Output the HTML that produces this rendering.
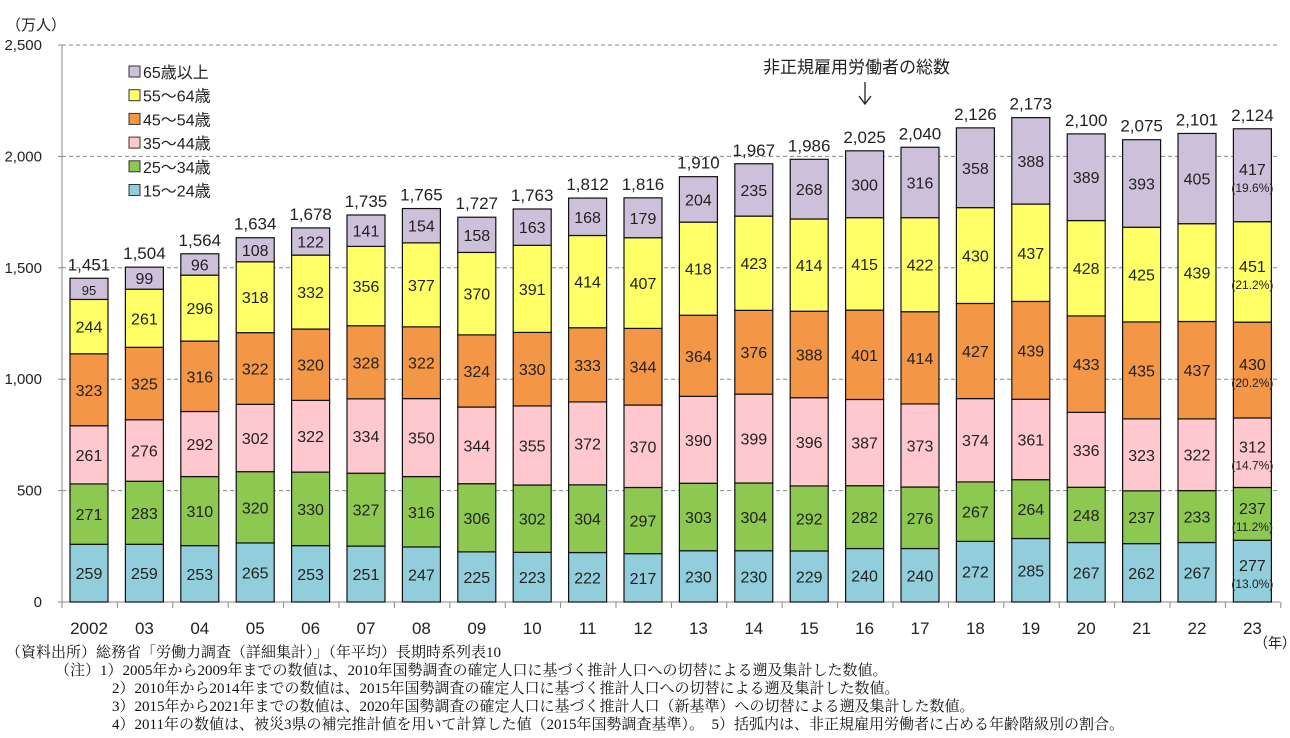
<!DOCTYPE html><html><head><meta charset="utf-8"><style>
body{margin:0;background:#fff;width:1290px;height:733px;overflow:hidden}
svg text{font-family:"Liberation Sans","Noto Sans CJK JP",sans-serif;fill:#222}
.n{font-family:"Liberation Serif","Noto Serif CJK SC",serif;font-size:15px;fill:#111}
</style></head><body>
<svg id="s" width="1290" height="733" xmlns="http://www.w3.org/2000/svg"></svg>
<script>
const d=[
["2002",259,271,261,323,244,95,"1,451"],["03",259,283,276,325,261,99,"1,504"],["04",253,310,292,316,296,96,"1,564"],
["05",265,320,302,322,318,108,"1,634"],["06",253,330,322,320,332,122,"1,678"],["07",251,327,334,328,356,141,"1,735"],
["08",247,316,350,322,377,154,"1,765"],["09",225,306,344,324,370,158,"1,727"],["10",223,302,355,330,391,163,"1,763"],
["11",222,304,372,333,414,168,"1,812"],["12",217,297,370,344,407,179,"1,816"],["13",230,303,390,364,418,204,"1,910"],
["14",230,304,399,376,423,235,"1,967"],["15",229,292,396,388,414,268,"1,986"],["16",240,282,387,401,415,300,"2,025"],
["17",240,276,373,414,422,316,"2,040"],["18",272,267,374,427,430,358,"2,126"],["19",285,264,361,439,437,388,"2,173"],
["20",267,248,336,433,428,389,"2,100"],["21",262,237,323,435,425,393,"2,075"],["22",267,233,322,437,439,405,"2,101"],
["23",277,237,312,430,451,417,"2,124"]];
const pct=["(13.0%)","(11.2%)","(14.7%)","(20.2%)","(21.2%)","(19.6%)"];
const col=["#92cddc","#8dc850","#ffc7ce","#f39646","#ffff66","#ccc0da"];
const Y0=602,K=557/2500;let h='';
for(let v=500;v<=2500;v+=500){let y=Y0-v*K;h+=`<line x1="62" y1="${y}" x2="1280" y2="${y}" stroke="#888" stroke-dasharray="4,3" stroke-width="1"/>`}
for(let v=0;v<=2500;v+=500){let y=Y0-v*K;h+=`<text x="42" y="${y+5}" font-size="15" text-anchor="end">${v.toLocaleString('en')}</text><line x1="58" y1="${y}" x2="62" y2="${y}" stroke="#888"/>`}
h+=`<text x="6" y="30" font-size="15">（万人）</text>`;
h+=`<line x1="62" y1="45" x2="62" y2="602" stroke="#888"/><line x1="62" y1="602" x2="1280" y2="602" stroke="#888"/>`;
const st=55.4;
for(let i=0;i<=22;i++){h+=`<line x1="${62+i*st}" y1="602" x2="${62+i*st}" y2="608" stroke="#888"/>`}
d.forEach((r,i)=>{let x=70+i*st,w=38,cum=0;
for(let k=0;k<6;k++){let v=r[k+1],y1=Y0-(cum+v)*K,hh=v*K;
h+=`<rect x="${x}" y="${y1}" width="${w}" height="${hh}" fill="${col[k]}" stroke="#111" stroke-width="1.2"/>`;
let cy=y1+hh/2;
if(i==21){h+=`<text x="${x+w/2}" y="${cy}" font-size="16" text-anchor="middle">${v}</text><text x="${x+w/2}" y="${cy+17}" font-size="12" text-anchor="middle">${pct[k]}</text>`}
else h+=`<text x="${x+w/2}" y="${cy+6}" font-size="${k==5&&i<1?13:16}" text-anchor="middle">${v}</text>`;
cum+=v}
h+=`<text x="${x+w/2}" y="${Y0-cum*K-8}" font-size="17" text-anchor="middle">${r[7]}</text>`;
h+=`<text x="${x+w/2}" y="634" font-size="17" text-anchor="middle">${r[0]}</text>`});
h+=`<text x="1254" y="648" font-size="14">（年）</text>`;
const lg=["65歳以上","55～64歳","45～54歳","35～44歳","25～34歳","15～24歳"];
lg.forEach((t,k)=>{let y=72+k*23.7;h+=`<rect x="129" y="${y-6}" width="11" height="11" fill="${col[5-k]}" stroke="#333"/><text x="143" y="${y+6}" font-size="16">${t}</text>`});
h+=`<text x="763" y="73" font-size="17">非正規雇用労働者の総数</text><line x1="865" y1="82" x2="865" y2="103" stroke="#222" stroke-width="1.3"/><polyline points="859,96 865,104 871,96" fill="none" stroke="#222" stroke-width="1.3"/>`;
const notes=[[6,657,"（資料出所）総務省「労働力調査（詳細集計）」（年平均）長期時系列表10"],
[55,675,"（注）1）2005年から2009年までの数値は、2010年国勢調査の確定人口に基づく推計人口への切替による遡及集計した数値。"],
[112,693,"2）2010年から2014年までの数値は、2015年国勢調査の確定人口に基づく推計人口への切替による遡及集計した数値。"],
[112,711,"3）2015年から2021年までの数値は、2020年国勢調査の確定人口に基づく推計人口（新基準）への切替による遡及集計した数値。"],
[112,729,"4）2011年の数値は、被災3県の補完推計値を用いて計算した値（2015年国勢調査基準）。　5）括弧内は、非正規雇用労働者に占める年齢階級別の割合。"]];
notes.forEach(n=>h+=`<text class="n" x="${n[0]}" y="${n[1]}">${n[2]}</text>`);
document.getElementById('s').innerHTML=h;
</script></body></html>
